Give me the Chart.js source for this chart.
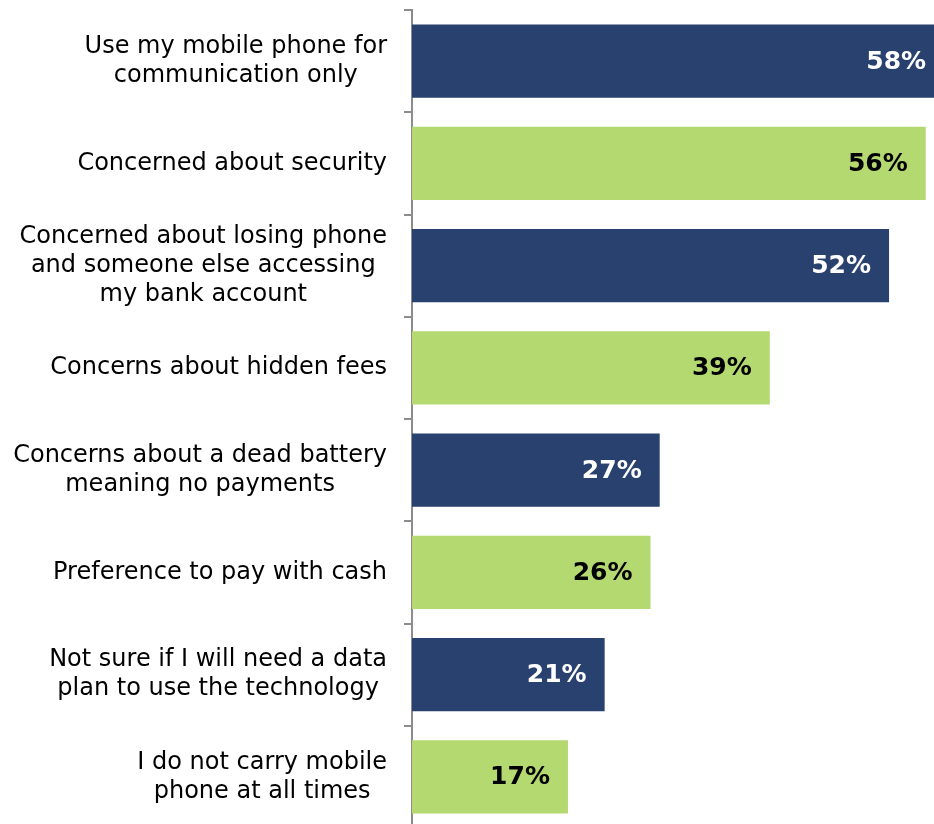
<!DOCTYPE html>
<html>
<head>
<meta charset="utf-8">
<script src="https://cdn.jsdelivr.net/npm/chart.js@4"></script>
<style>
  html, body { margin: 0; padding: 0; background: #fff; overflow: hidden; }
  #wrap { width: 934px; height: 828px; position: relative; }
</style>
</head>
<body>
<div id="wrap"><canvas id="barriersChart"></canvas></div>
<script>
// Reasons for not using mobile payments (% of respondents)
const categories = [
    ['Use my mobile phone for', 'communication only'],
    ['Concerned about security'],
    ['Concerned about losing phone', 'and someone else accessing', 'my bank account'],
    ['Concerns about hidden fees'],
    ['Concerns about a dead battery', 'meaning no payments'],
    ['Preference to pay with cash'],
    ['Not sure if I will need a data', 'plan to use the technology'],
    ['I do not carry mobile', 'phone at all times']
];
const percentages = [58, 56, 52, 39, 27, 26, 21, 17];
const barColors = ['#28416e', '#b4d970', '#28416e', '#b4d970', '#28416e', '#b4d970', '#28416e', '#b4d970'];
const labelColors = ['#ffffff', '#000000', '#ffffff', '#000000', '#ffffff', '#000000', '#ffffff', '#000000'];

// category labels: block right-aligned next to the axis, lines centred inside the block
const categoryLabels = {
    id: 'categoryLabels',
    afterDraw(chart) {
        const ctx = chart.ctx;
        const yScale = chart.scales.y;
        ctx.save();
        ctx.font = '24px "DejaVu Sans"';
        ctx.fillStyle = '#000';
        ctx.textAlign = 'center';
        ctx.textBaseline = 'middle';
        const lineHeight = 29;
        categories.forEach((lines, i) => {
            const widest = Math.max(...lines.map(l => ctx.measureText(l).width));
            const cx = 387 - widest / 2;
            const cy = yScale.getPixelForValue(i);
            lines.forEach((line, j) => {
                ctx.fillText(line, cx, cy + (j - (lines.length - 1) / 2) * lineHeight);
            });
        });
        ctx.restore();
    }
};

// value labels just inside the end of each bar
const valueLabels = {
    id: 'valueLabels',
    afterDatasetsDraw(chart) {
        const ctx = chart.ctx;
        const xScale = chart.scales.x;
        const yScale = chart.scales.y;
        ctx.save();
        ctx.font = 'bold 25px "DejaVu Sans"';
        ctx.textAlign = 'right';
        ctx.textBaseline = 'middle';
        percentages.forEach((v, i) => {
            ctx.fillStyle = labelColors[i];
            ctx.fillText(v + '%', xScale.getPixelForValue(v) - 18, yScale.getPixelForValue(i) + 1);
        });
        ctx.restore();
    }
};

const ctx = document.getElementById('barriersChart').getContext('2d');
new Chart(ctx, {
    type: 'bar',
    data: {
        labels: categories,
        datasets: [{
            data: percentages,
            backgroundColor: barColors,
            borderWidth: 0,
            barPercentage: 0.714,
            categoryPercentage: 1
        }]
    },
    options: {
        indexAxis: 'y',
        responsive: true,
        maintainAspectRatio: false,
        animation: false,
        layout: { padding: { top: 10, right: 0, bottom: 0, left: 0 } },
        plugins: {
            legend: { display: false },
            tooltip: { enabled: false }
        },
        scales: {
            x: {
                display: false,
                min: 0,
                max: 56.9
            },
            y: {
                afterFit: s => { s.width = 412; },
                ticks: { display: false },
                grid: {
                    display: true,
                    offset: true,
                    drawOnChartArea: false,
                    drawTicks: true,
                    tickLength: 8,
                    color: '#8c8c8c',
                    lineWidth: 2
                },
                border: { display: true, color: '#8c8c8c', width: 2 }
            }
        }
    },
    plugins: [categoryLabels, valueLabels]
});
</script>
</body>
</html>
